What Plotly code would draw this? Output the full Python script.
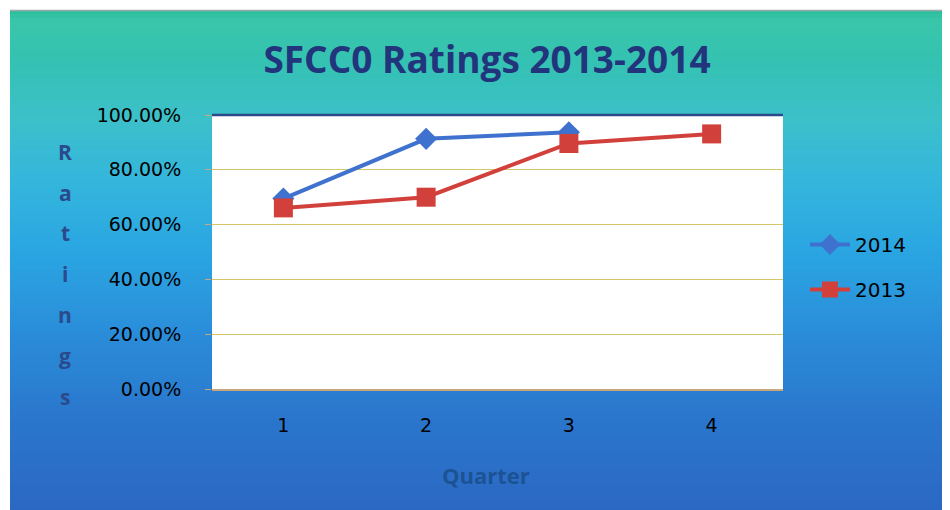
import plotly.graph_objects as go

quarters = ["1", "2", "3", "4"]
ratings_2014 = [0.695, 0.913, 0.937]
ratings_2013 = [0.661, 0.700, 0.896, 0.931]
y_ticks = [0, 0.2, 0.4, 0.6, 0.8, 1.0]
title_text = "SFCC0 Ratings 2013-2014"
y_title = "Ratings"
x_title = "Quarter"

OFF = 8  # page body margin
W, H = 950 - OFF, 510 - OFF
# plot area in reference pixels: x 212..783, y 115..389
PX0, PX1, PY0, PY1 = 212, 783, 115, 389
L, R, T, B = PX0 - OFF, 950 - PX1, PY0 - OFF, 510 - PY1
PW, PH = PX1 - PX0, PY1 - PY0

def px_x(px):
    return (px - PX0) / PW

def px_y(py):
    return (PY1 - py) / PH

# background gradient stops (reference pixel y, colour)
stops = [(10, (43, 190, 156)), (22, (58, 198, 170)), (60, (52, 194, 178)),
         (120, (60, 192, 202)), (180, (52, 182, 220)), (250, (42, 166, 226)),
         (330, (42, 142, 218)), (420, (42, 118, 204)), (510, (43, 104, 196))]

def colour_at(py):
    for (y0, c0), (y1, c1) in zip(stops[:-1], stops[1:]):
        if y0 <= py <= y1:
            t = (py - y0) / (y1 - y0)
            c = [round(a + (b - a) * t) for a, b in zip(c0, c1)]
            return "rgb(%d,%d,%d)" % tuple(c)
    return "rgb(%d,%d,%d)" % stops[-1][1]

shapes = []
step = 4
for py in range(10, 510, step):
    shapes.append(dict(type="rect", xref="paper", yref="paper", layer="below",
                       x0=px_x(10), x1=px_x(951), y0=px_y(py), y1=px_y(py + step + 1),
                       fillcolor=colour_at(py + step / 2), line=dict(width=0)))
shapes.append(dict(type="line", xref="paper", yref="paper", layer="below",
                   x0=px_x(10), x1=px_x(951), y0=px_y(10.5), y1=px_y(10.5),
                   line=dict(color="#9aa8a8", width=1.5)))
shapes.append(dict(type="rect", xref="paper", yref="paper", layer="below",
                   x0=0, x1=1, y0=0, y1=1, fillcolor="white", line=dict(width=0)))
shapes.append(dict(type="line", xref="paper", yref="paper", layer="above",
                   x0=0, x1=1, y0=1, y1=1, line=dict(color="#2b4a8c", width=2.5)))

fig = go.Figure()
fig.add_trace(go.Scatter(x=quarters[:len(ratings_2014)], y=ratings_2014, name="2014",
                         mode="lines+markers", legendgroup="a",
                         line=dict(color="#3f72cf", width=4),
                         marker=dict(symbol="diamond", size=17, color="#3f72cf")))
fig.add_trace(go.Scatter(x=quarters, y=ratings_2013, name="2013",
                         mode="lines+markers", legendgroup="b",
                         line=dict(color="#d2403c", width=4),
                         marker=dict(symbol="square", size=19, color="#d2403c")))

annotations = []
letter_y = [152, 193, 233, 274, 315, 356, 397]
for ch, py in zip(y_title, letter_y):
    annotations.append(dict(text="<b>%s</b>" % ch, xref="paper", yref="paper",
                            x=px_x(65), y=px_y(py), showarrow=False,
                            xanchor="center", yanchor="middle",
                            font=dict(family="Open Sans", size=21, color="#2a4a8c")))
annotations.append(dict(text="<b>%s</b>" % x_title, xref="paper", yref="paper",
                        x=px_x(486), y=px_y(475), showarrow=False,
                        xanchor="center", yanchor="middle",
                        font=dict(family="Open Sans", size=22, color="#1b5394")))

fig.update_layout(
    width=W, height=H,
    margin=dict(l=L, r=R, t=T, b=B, pad=0),
    paper_bgcolor="white", plot_bgcolor="rgba(0,0,0,0)",
    title=dict(text="<b>%s</b>" % title_text, xref="container", yref="container",
               x=(487 - OFF) / W, y=1 - (60 - OFF) / H, xanchor="center", yanchor="middle",
               font=dict(family="Open Sans", size=37, color="#22357c")),
    font=dict(family="DejaVu Sans", size=20, color="black"),
    shapes=shapes, annotations=annotations,
    showlegend=True,
    legend=dict(x=px_x(805), y=px_y(225), xanchor="left", yanchor="top",
                bgcolor="rgba(0,0,0,0)", font=dict(family="DejaVu Sans", size=20, color="black"),
                tracegroupgap=16, itemwidth=40),
    xaxis=dict(type="category", range=[-0.5, 3.5], showgrid=False,
               showline=True, linecolor="#c8a87a", linewidth=1.5,
               ticks="", tickfont=dict(size=19), ticklabelstandoff=18,
               zeroline=False),
    yaxis=dict(range=[0, 1], tickvals=y_ticks, tickformat=".2%",
               showgrid=True, gridcolor="#d6c66a", gridwidth=1.2,
               showline=False, zeroline=False,
               ticks="outside", ticklen=6, tickcolor="#c8a87a",
               tickfont=dict(size=19), ticklabelstandoff=20),
)

fig.write_html("out.html")
